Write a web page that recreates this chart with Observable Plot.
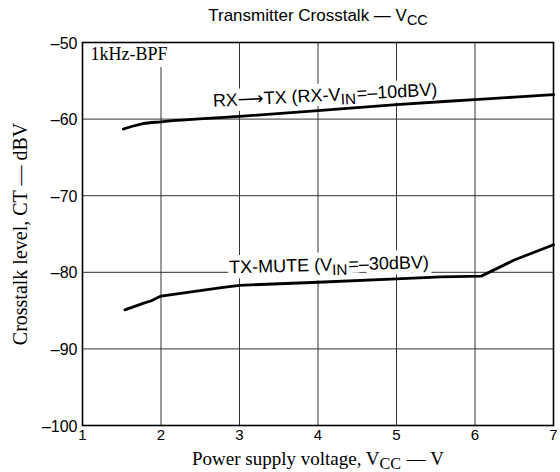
<!DOCTYPE html>
<html><head><meta charset="utf-8">
<script src="https://cdn.jsdelivr.net/npm/d3@7"></script>
<script src="https://cdn.jsdelivr.net/npm/@observablehq/plot@0.6"></script>
<style>body{margin:0;background:#fff} #chart{width:560px;height:472px}</style>
</head><body><div id="chart"></div>
<script>
// ---- data ----
const xTicks = [1, 2, 3, 4, 5, 6, 7];
const yTicks = [-100, -90, -80, -70, -60, -50];
const rxVoltage = [1.52, 1.65, 1.77, 2.0, 3, 4, 5, 6, 7];
const rxLevel   = [-61.3, -60.9, -60.6, -60.35, -59.65, -58.9, -58.1, -57.45, -56.8];
const muteVoltage = [1.54, 1.79, 1.87, 2.0, 2.77, 3, 4, 5, 5.57, 6.08, 6.5, 7];
const muteLevel   = [-84.9, -84.0, -83.75, -83.1, -82.0, -81.7, -81.3, -80.85, -80.6, -80.5, -78.4, -76.4];
const titleText = "Transmitter Crosstalk — V_{CC}";
const xLabel = "Power supply voltage, V_{CC} — V";
const yLabel = "Crosstalk level, CT — dBV";
const filterNote = "1kHz-BPF";
const curveLabels = ["RX→TX (RX-V_{IN}=–10dBV)", "TX-MUTE (V_{IN}=–30dBV)"];
const curveLabelV = [4.09, 4.14];
const curveLabelL = [-56.9, -79.05];
const curveLabelAngle = [-2.9, -1.4];

const rx = rxVoltage.map((v, i) => ({v, l: rxLevel[i]}));
const mute = muteVoltage.map((v, i) => ({v, l: muteLevel[i]}));
const labels = curveLabels.map((t, i) => ({t, v: curveLabelV[i], l: curveLabelL[i], a: curveLabelAngle[i]}));

const serif = "'Liberation Serif', 'Times New Roman', serif";
const sans = "'Liberation Sans', Arial, sans-serif";
const fmtY = d => d < 0 ? "–" + Math.abs(d) : String(d);
const fmtX = d => String(d);

const labelOpts = {x: "v", y: "l", text: "t", rotate: "a", fontSize: 18};
const noteOpts = {frameAnchor: "top-left", dx: 8, dy: 5, lineAnchor: "top", textAnchor: "start", fontFamily: serif, fontSize: 18};
const halo = {fill: "white", stroke: "white", strokeWidth: 11, strokeLinejoin: "round"};

const chart = Plot.plot({
  width: 560, height: 472,
  marginLeft: 82, marginRight: 7, marginTop: 42, marginBottom: 47,
  style: {fontFamily: sans, fontSize: "15px", background: "#fff"},
  x: {domain: [1, 7]},
  y: {domain: [-100, -50]},
  marks: [
    Plot.gridX(xTicks, {stroke: "#333", strokeOpacity: 1, strokeWidth: 1}),
    Plot.gridY(yTicks, {stroke: "#333", strokeOpacity: 1, strokeWidth: 1}),
    Plot.axisX({ticks: xTicks, tickSize: 0, tickPadding: 4, label: null, tickFormat: fmtX, fontSize: 15}),
    Plot.axisY({ticks: yTicks, tickSize: 0, tickPadding: 5, label: null, tickFormat: fmtY, fontSize: 16, dy: 1}),
    Plot.text(labels, {...labelOpts, ...halo}),
    Plot.text(labels, {...labelOpts, fill: "black"}),
    Plot.text([filterNote], {...noteOpts, ...halo, strokeWidth: 14}),
    Plot.text([filterNote], {...noteOpts, fill: "black"}),
    Plot.frame({stroke: "black", strokeWidth: 1.6}),
    Plot.line(rx, {x: "v", y: "l", stroke: "black", strokeWidth: 2.8, curve: "monotone-x"}),
    Plot.line(mute, {x: "v", y: "l", stroke: "black", strokeWidth: 2.8}),
    Plot.text([titleText], {frameAnchor: "top", dy: -22, lineAnchor: "bottom", fontSize: 17, fill: "black"}),
    Plot.text([xLabel], {frameAnchor: "bottom", dy: 39, lineAnchor: "bottom", textAnchor: "middle", fontFamily: serif, fontSize: 19, fill: "black"}),
    Plot.text([yLabel], {frameAnchor: "left", dx: -62, rotate: -90, textAnchor: "middle", fontFamily: serif, fontSize: 20, fill: "black"})
  ]
});

// rich text: _{...} becomes a subscript; the arrow uses a font with a long arrow glyph
function applyRichText(svg) {
  const NS = "http://www.w3.org/2000/svg";
  svg.querySelectorAll("text").forEach(t => {
    const s = t.textContent;
    if (!s.includes("_{") && !s.includes("→")) return;
    while (t.firstChild) t.removeChild(t.firstChild);
    const parts = s.split(/(_\{[^}]*\}|→)/);
    let shifted = false;
    for (const p of parts) {
      if (!p) continue;
      const ts = document.createElementNS(NS, "tspan");
      if (p.startsWith("_{")) {
        ts.textContent = p.slice(2, -1);
        ts.setAttribute("font-size", "0.85em");
        ts.setAttribute("dy", "0.28em");
        shifted = true;
      } else {
        ts.textContent = p === "→" ? "⟶" : p;
        if (p === "→") ts.setAttribute("font-family", "'DejaVu Sans', sans-serif");
        if (shifted) { ts.setAttribute("dy", "-0.238em"); ts.setAttribute("dx", "1"); shifted = false; }
      }
      t.appendChild(ts);
    }
  });
}
applyRichText(chart);
document.getElementById("chart").appendChild(chart);
</script>
</body></html>
